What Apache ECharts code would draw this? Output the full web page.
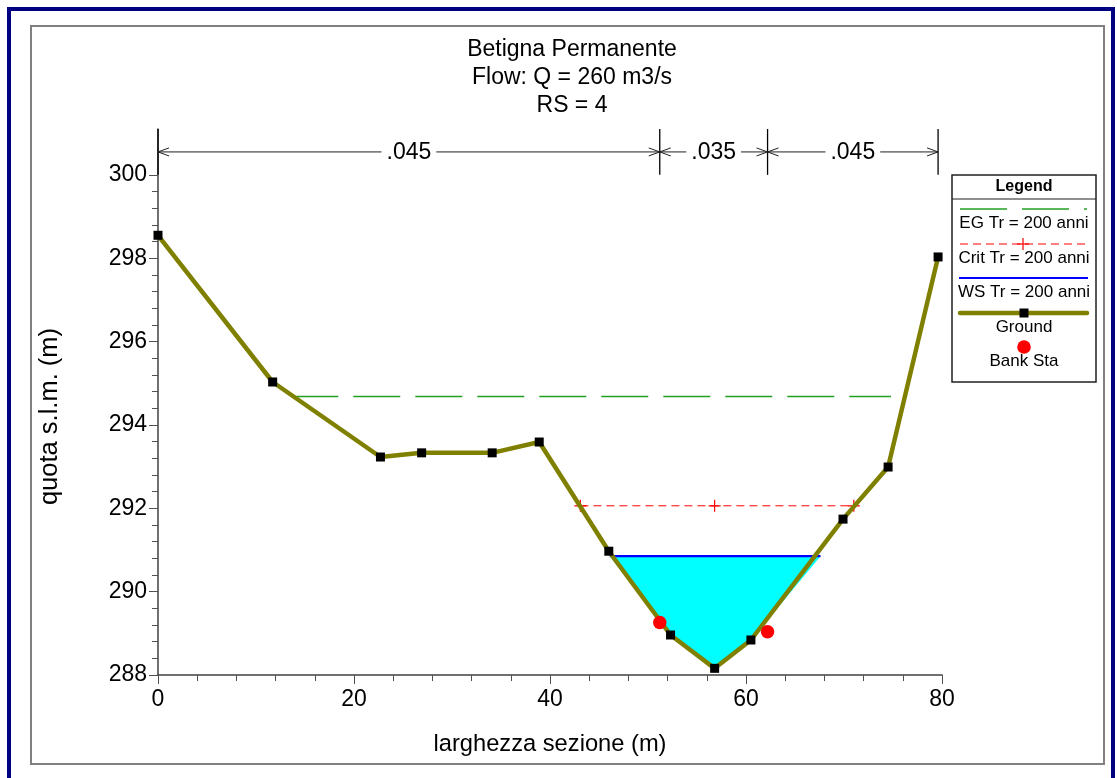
<!DOCTYPE html>
<html><head><meta charset="utf-8">
<script src="https://cdn.jsdelivr.net/npm/echarts@6/dist/echarts.min.js"></script>
<style>html,body{margin:0;padding:0;background:#fff}#c{width:1117px;height:778px}</style>
</head><body><div id="c"></div>
<script>
// ---------- data ----------
const titleLines = ['Betigna Permanente', 'Flow: Q = 260 m3/s', 'RS = 4'];
const xAxisName = 'larghezza sezione (m)';
const yAxisName = 'quota s.l.m. (m)';
const groundStation = [0, 11.7, 22.7, 26.9, 34.1, 38.9, 46.0, 52.3, 56.8, 60.5, 69.9, 74.5, 79.6];
const groundElev = [298.55, 295.03, 293.23, 293.33, 293.33, 293.59, 290.97, 288.96, 288.16, 288.84, 291.74, 292.99, 298.03];
const bankStation = [51.2, 62.2];
const bankElev = [289.26, 289.04];
const wsStation = [46.1, 67.6];
const wsElev = 290.85;
const critStation = [43.1, 56.8, 71.0];
const critElev = 292.06;
const egStation = [13.6, 74.8];
const egElev = 294.68;
const nBounds = [0, 51.2, 62.2, 79.6];
const nValues = ['.045', '.035', '.045'];
const nArrowElev = 300.55;
const nLineBottom = 300;
const xTicks = [0, 20, 40, 60, 80];
const yTicks = [288, 290, 292, 294, 296, 298, 300];
const yMax = 301.1;
const legendItems = ['EG Tr = 200 anni', 'Crit Tr = 200 anni', 'WS Tr = 200 anni', 'Ground', 'Bank Sta'];

// minor ticks (5 subdivisions between labelled ticks)
const yMinor = [];
for (let i = 0; i < yTicks.length - 1; i++) {
  const step = (yTicks[i + 1] - yTicks[i]) / 5;
  for (let k = 1; k < 5; k++) yMinor.push(+(yTicks[i] + k * step).toFixed(3));
}

const FONT = '"Liberation Sans", Arial, sans-serif';
const OLIVE = '#808000', GREEN = '#22a022', RED = '#ff0000', BLUE = '#0000ff', CYAN = '#00ffff';
const PLUS = 'path://M4.5,0 L5.5,0 L5.5,4.5 L10,4.5 L10,5.5 L5.5,5.5 L5.5,10 L4.5,10 L4.5,5.5 L0,5.5 L0,4.5 L4.5,4.5 Z';

const zip = (xs, ys) => xs.map((x, i) => [x, Array.isArray(ys) ? ys[i] : ys]);

const chart = echarts.init(document.getElementById('c'), null, {renderer: 'canvas'});

// legend drawn as graphic (symbol above text layout)
const LX = 952, LY = 175, LW = 144, LH = 207, LC = LX + LW / 2;
const legendGraphic = {
  type: 'group', children: [
    {type: 'rect', shape: {x: LX, y: LY, width: LW, height: LH}, style: {fill: '#fff', stroke: '#202020', lineWidth: 1.5}},
    {type: 'line', shape: {x1: LX, y1: LY + 24, x2: LX + LW, y2: LY + 24}, style: {stroke: '#202020', lineWidth: 1.2}},
    {type: 'text', x: LC, y: LY + 12, style: {text: 'Legend', font: 'bold 16px ' + FONT, fill: '#000', align: 'center', verticalAlign: 'middle'}},
    // EG
    {type: 'line', shape: {x1: 960, y1: 209, x2: 1087, y2: 209}, style: {stroke: GREEN, lineWidth: 1.5, lineDash: [47, 15]}},
    {type: 'text', x: LC, y: 223, style: {text: legendItems[0], font: '17px ' + FONT, fill: '#000', align: 'center', verticalAlign: 'middle'}},
    // Crit
    {type: 'line', shape: {x1: 960, y1: 244, x2: 1087, y2: 244}, style: {stroke: RED, lineWidth: 1, lineDash: [8, 5]}},
    {type: 'line', shape: {x1: 1017, y1: 244, x2: 1029, y2: 244}, style: {stroke: RED, lineWidth: 1.2}},
    {type: 'line', shape: {x1: 1023, y1: 238, x2: 1023, y2: 250}, style: {stroke: RED, lineWidth: 1.2}},
    {type: 'text', x: LC, y: 258, style: {text: legendItems[1], font: '17px ' + FONT, fill: '#000', align: 'center', verticalAlign: 'middle'}},
    // WS
    {type: 'line', shape: {x1: 959, y1: 278, x2: 1088, y2: 278}, style: {stroke: BLUE, lineWidth: 2}},
    {type: 'text', x: LC, y: 292, style: {text: legendItems[2], font: '17px ' + FONT, fill: '#000', align: 'center', verticalAlign: 'middle'}},
    // Ground
    {type: 'line', shape: {x1: 960, y1: 313, x2: 1087, y2: 313}, style: {stroke: OLIVE, lineWidth: 4.5, lineCap: 'round'}},
    {type: 'rect', shape: {x: LC - 4.5, y: 308.5, width: 9, height: 9}, style: {fill: '#000'}},
    {type: 'text', x: LC, y: 327, style: {text: legendItems[3], font: '17px ' + FONT, fill: '#000', align: 'center', verticalAlign: 'middle'}},
    // Bank
    {type: 'circle', shape: {cx: LC, cy: 347, r: 6.8}, style: {fill: RED}},
    {type: 'text', x: LC, y: 361, style: {text: legendItems[4], font: '17px ' + FONT, fill: '#000', align: 'center', verticalAlign: 'middle'}}
  ]
};

const option = {
  animation: false,
  backgroundColor: '#fff',
  title: {
    text: titleLines.join('\n'),
    left: 567, top: 31, textAlign: 'center',
    textStyle: {fontFamily: FONT, fontSize: 23, fontWeight: 'normal', color: '#000', lineHeight: 28}
  },
  grid: {left: 158, right: 175, top: 129, bottom: 103, containLabel: false},
  xAxis: {
    type: 'value', min: 0, max: 80, interval: 20,
    name: xAxisName, nameLocation: 'middle', nameGap: 57,
    nameTextStyle: {fontFamily: FONT, fontSize: 23.7, color: '#000'},
    axisLine: {show: true, lineStyle: {color: '#404040', width: 1.5}},
    axisTick: {show: true, length: 9, lineStyle: {color: '#505050', width: 1}},
    minorTick: {show: true, splitNumber: 5, length: 6, lineStyle: {color: '#505050', width: 1}},
    axisLabel: {fontFamily: FONT, fontSize: 23, color: '#000', margin: 13, customValues: xTicks},
    splitLine: {show: false}, minorSplitLine: {show: false}
  },
  yAxis: [
    {
      type: 'value', min: 288, max: yMax, position: 'left',
      name: yAxisName, nameLocation: 'middle', nameGap: 95, nameRotate: 90,
      nameTextStyle: {fontFamily: FONT, fontSize: 25.5, color: '#000', padding: [0, 29, 0, 0]},
      axisLine: {show: true, lineStyle: {color: '#404040', width: 1.5}},
      axisTick: {show: true, length: 9, customValues: yTicks, lineStyle: {color: '#505050', width: 1}},
      axisLabel: {fontFamily: FONT, fontSize: 23, color: '#000', margin: 11, customValues: yTicks},
      splitLine: {show: false}
    },
    {
      type: 'value', min: 288, max: yMax, position: 'left', offset: 0,
      axisLine: {show: false},
      axisTick: {show: true, length: 6, customValues: yMinor, lineStyle: {color: '#505050', width: 1}},
      axisLabel: {show: false},
      splitLine: {show: false}
    }
  ],
  graphic: [
    {type: 'rect', silent: true, z: -10, shape: {x: 9, y: 9, width: 1104, height: 800}, style: {fill: 'none', stroke: '#000080', lineWidth: 4}},
    {type: 'rect', silent: true, z: -10, shape: {x: 31, y: 26, width: 1073, height: 738}, style: {fill: 'none', stroke: '#808080', lineWidth: 2}},
    legendGraphic
  ],
  series: [
    {
      name: 'water', type: 'custom', z: 1, silent: true, clip: false,
      data: [[wsStation[0], wsElev]],
      renderItem: function (params, api) {
        const pts = [[wsStation[0], wsElev]];
        groundStation.forEach((s, i) => { if (s > wsStation[0] && s < wsStation[1] && groundElev[i] < wsElev) pts.push([s, groundElev[i]]); });
        pts.push([wsStation[1], wsElev]);
        return {type: 'polygon', shape: {points: pts.map(p => api.coord(p))}, style: {fill: CYAN}};
      }
    },
    {
      name: legendItems[1], type: 'line', z: 2, silent: true,
      data: zip(critStation, critElev),
      symbol: PLUS, symbolSize: 12, showSymbol: true,
      itemStyle: {color: RED},
      lineStyle: {color: RED, width: 1, type: [8, 5]}
    },
    {
      name: legendItems[0], type: 'line', z: 2, silent: true,
      data: zip(egStation, egElev), showSymbol: false, symbol: 'none',
      lineStyle: {color: GREEN, width: 1.5, type: [47, 15]}
    },
    {
      name: legendItems[2], type: 'line', z: 3, silent: true,
      data: zip(wsStation, wsElev), showSymbol: false, symbol: 'none',
      lineStyle: {color: BLUE, width: 2.2}
    },
    {
      name: legendItems[3], type: 'line', z: 4, silent: true,
      data: zip(groundStation, groundElev),
      symbol: 'rect', symbolSize: 9, showSymbol: true, showAllSymbol: true,
      itemStyle: {color: '#000'},
      lineStyle: {color: OLIVE, width: 4.5, cap: 'round', join: 'round'}
    },
    {
      name: legendItems[4], type: 'scatter', z: 5, silent: true,
      data: zip(bankStation, bankElev), symbol: 'circle', symbolSize: 13.5,
      itemStyle: {color: RED, opacity: 1}
    },
    {
      name: 'manning', type: 'custom', z: 2, silent: true, clip: false,
      data: [[nBounds[0], nArrowElev]],
      renderItem: function (params, api) {
        const ch = [];
        const yA = api.coord([0, nArrowElev])[1];
        nBounds.forEach(b => {
          const top = api.coord([b, yMax]), bot = api.coord([b, nLineBottom]);
          ch.push({type: 'line', shape: {x1: top[0], y1: top[1], x2: bot[0], y2: bot[1]}, style: {stroke: '#000', lineWidth: 1.3}});
        });
        for (let i = 0; i < nValues.length; i++) {
          const x1 = api.coord([nBounds[i], nArrowElev])[0];
          const x2 = api.coord([nBounds[i + 1], nArrowElev])[0];
          ch.push({type: 'line', shape: {x1: x1, y1: yA, x2: x2, y2: yA}, style: {stroke: '#202020', lineWidth: 1}});
          ch.push({type: 'polyline', shape: {points: [[x1 + 11, yA - 4], [x1, yA], [x1 + 11, yA + 4]]}, style: {stroke: '#202020', lineWidth: 1, fill: 'none'}});
          ch.push({type: 'polyline', shape: {points: [[x2 - 11, yA - 4], [x2, yA], [x2 - 11, yA + 4]]}, style: {stroke: '#202020', lineWidth: 1, fill: 'none'}});
          ch.push({type: 'text', x: (x1 + x2) / 2, y: yA + 1, style: {text: nValues[i], font: '23px ' + FONT, fill: '#000', align: 'center', verticalAlign: 'middle', backgroundColor: '#fff', padding: [0, 5]}});
        }
        return {type: 'group', children: ch};
      }
    }
  ]
};
chart.setOption(option);
</script>
</body></html>
